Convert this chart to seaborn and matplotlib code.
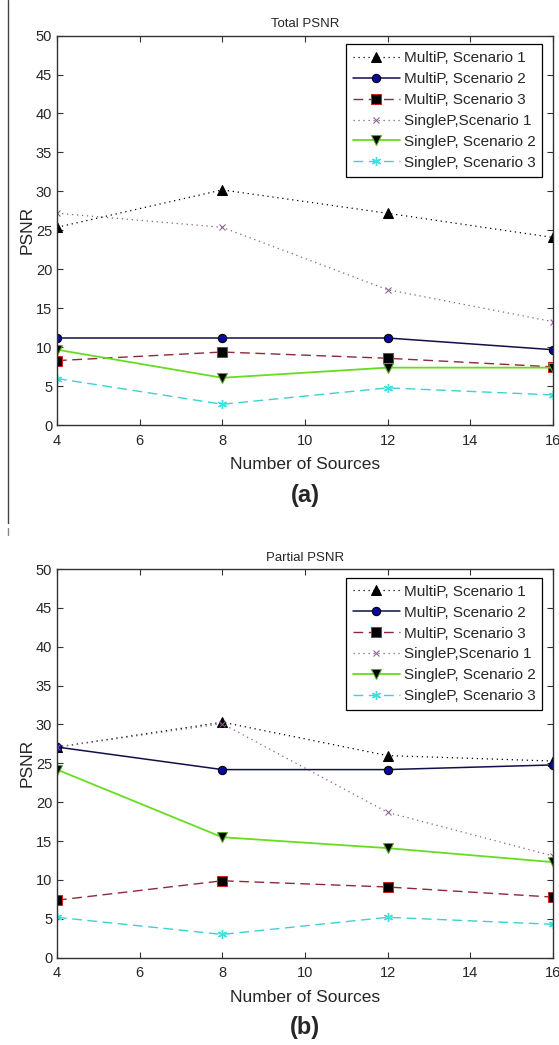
import numpy as np
import pandas as pd
import seaborn as sns
import matplotlib.pyplot as plt
from matplotlib.lines import Line2D

# Donnees
sources = [4, 8, 12, 16]

labels = ["MultiP, Scenario 1", "MultiP, Scenario 2", "MultiP, Scenario 3",
          "SingleP,Scenario 1", "SingleP, Scenario 2", "SingleP, Scenario 3"]

total_multi_s1 = [25.4, 30.2, 27.2, 24.1]
total_multi_s2 = [11.2, 11.2, 11.2, 9.7]
total_multi_s3 = [8.3, 9.4, 8.6, 7.5]
total_single_s1 = [27.2, 25.4, 17.4, 13.3]
total_single_s2 = [9.7, 6.1, 7.4, 7.4]
total_single_s3 = [6.0, 2.7, 4.8, 3.9]

partial_multi_s1 = [27.1, 30.3, 26.0, 25.3]
partial_multi_s2 = [27.1, 24.2, 24.2, 24.8]
partial_multi_s3 = [7.4, 9.9, 9.1, 7.8]
partial_single_s1 = [27.1, 30.1, 18.7, 13.1]
partial_single_s2 = [24.2, 15.5, 14.1, 12.3]
partial_single_s3 = [5.2, 3.0, 5.2, 4.3]

total_series = [total_multi_s1, total_multi_s2, total_multi_s3,
                total_single_s1, total_single_s2, total_single_s3]
partial_series = [partial_multi_s1, partial_multi_s2, partial_multi_s3,
                  partial_single_s1, partial_single_s2, partial_single_s3]

# styles facon MATLAB
styles = [
    dict(color="black", linestyle=(0, (1, 3)), linewidth=0.9, marker="^", markersize=6.5,
         markerfacecolor="black", markeredgecolor="black"),
    dict(color="#10104a", linestyle="-", linewidth=1.1, marker="o", markersize=6,
         markerfacecolor="#0a0a9a", markeredgecolor="black"),
    dict(color="#8a2a3a", linestyle=(0, (7, 4)), linewidth=1.0, marker="s", markersize=6.5,
         markerfacecolor="black", markeredgecolor="#d02020"),
    dict(color="#8a5a90", linestyle=(0, (1, 3)), linewidth=0.9, marker="x", markersize=4.5,
         markerfacecolor="#8a5a90", markeredgecolor="#8a5a90"),
    dict(color="#66dd22", linestyle="-", linewidth=1.3, marker="v", markersize=6.5,
         markerfacecolor="black", markeredgecolor="#55aa22"),
    dict(color="#40d0d0", linestyle=(0, (7, 4)), linewidth=1.0, marker=(6, 2, 0), markersize=6.5,
         markerfacecolor="#40e0e0", markeredgecolor="#40e0e0", markeredgewidth=1.0),
]

sns.set_style("ticks")
plt.rcParams['font.family'] = ['Liberation Sans', 'DejaVu Sans']

fig = plt.figure(figsize=(5.59, 10.45), dpi=100)
ax_a = fig.add_axes([0.102, 0.593, 0.887, 0.373])
ax_b = fig.add_axes([0.102, 0.0835, 0.887, 0.372])


def trace(ax, series, titre, lettre):
    for vals, lab, st in zip(series, labels, styles):
        df = pd.DataFrame({"Sources": sources, "PSNR": vals})
        sns.lineplot(data=df, x="Sources", y="PSNR", ax=ax, label=lab, **st)

    ax.set_xlim(4, 16)
    ax.set_ylim(0, 50)
    ax.set_xticks(np.arange(4, 17, 2))
    ax.set_yticks(np.arange(0, 51, 5))
    ax.tick_params(direction="in", length=4, top=True, right=True,
                   labelsize=10.5, width=0.8, color="#333333")
    ax.tick_params(axis="x", pad=6)
    for s in ax.spines.values():
        s.set_linewidth(1.0)
        s.set_color("#333333")
        s.set_visible(True)
    ax.set_title(titre, fontsize=9.5, pad=6)
    ax.set_ylabel("PSNR", fontsize=12.5, labelpad=1)
    ax.set_xlabel("Number of Sources", fontsize=12.5, labelpad=7)
    ax.text(0.5, -0.18, lettre, transform=ax.transAxes, ha="center", va="center",
            fontsize=17, fontweight="bold")

    leg = ax.legend(loc="upper right", bbox_to_anchor=(0.985, 0.985), fontsize=11,
                    frameon=True, fancybox=False, framealpha=1, edgecolor="black",
                    handlelength=3.1, handletextpad=0.25, labelspacing=0.45,
                    borderpad=0.45, borderaxespad=0.2, numpoints=1)
    leg.get_frame().set_linewidth(0.9)


trace(ax_a, total_series, "Total PSNR", "(a)")
trace(ax_b, partial_series, "Partial PSNR", "(b)")

# trait vertical a gauche (bord de la figure scannee)
fig.add_artist(Line2D([0.015, 0.015], [0.50, 1.0], transform=fig.transFigure,
                      color="#444444", linewidth=1.0))
fig.add_artist(Line2D([0.015, 0.015], [0.488, 0.495], transform=fig.transFigure,
                      color="#888888", linewidth=1.0))

plt.savefig("out.png", dpi=100)
plt.close()
